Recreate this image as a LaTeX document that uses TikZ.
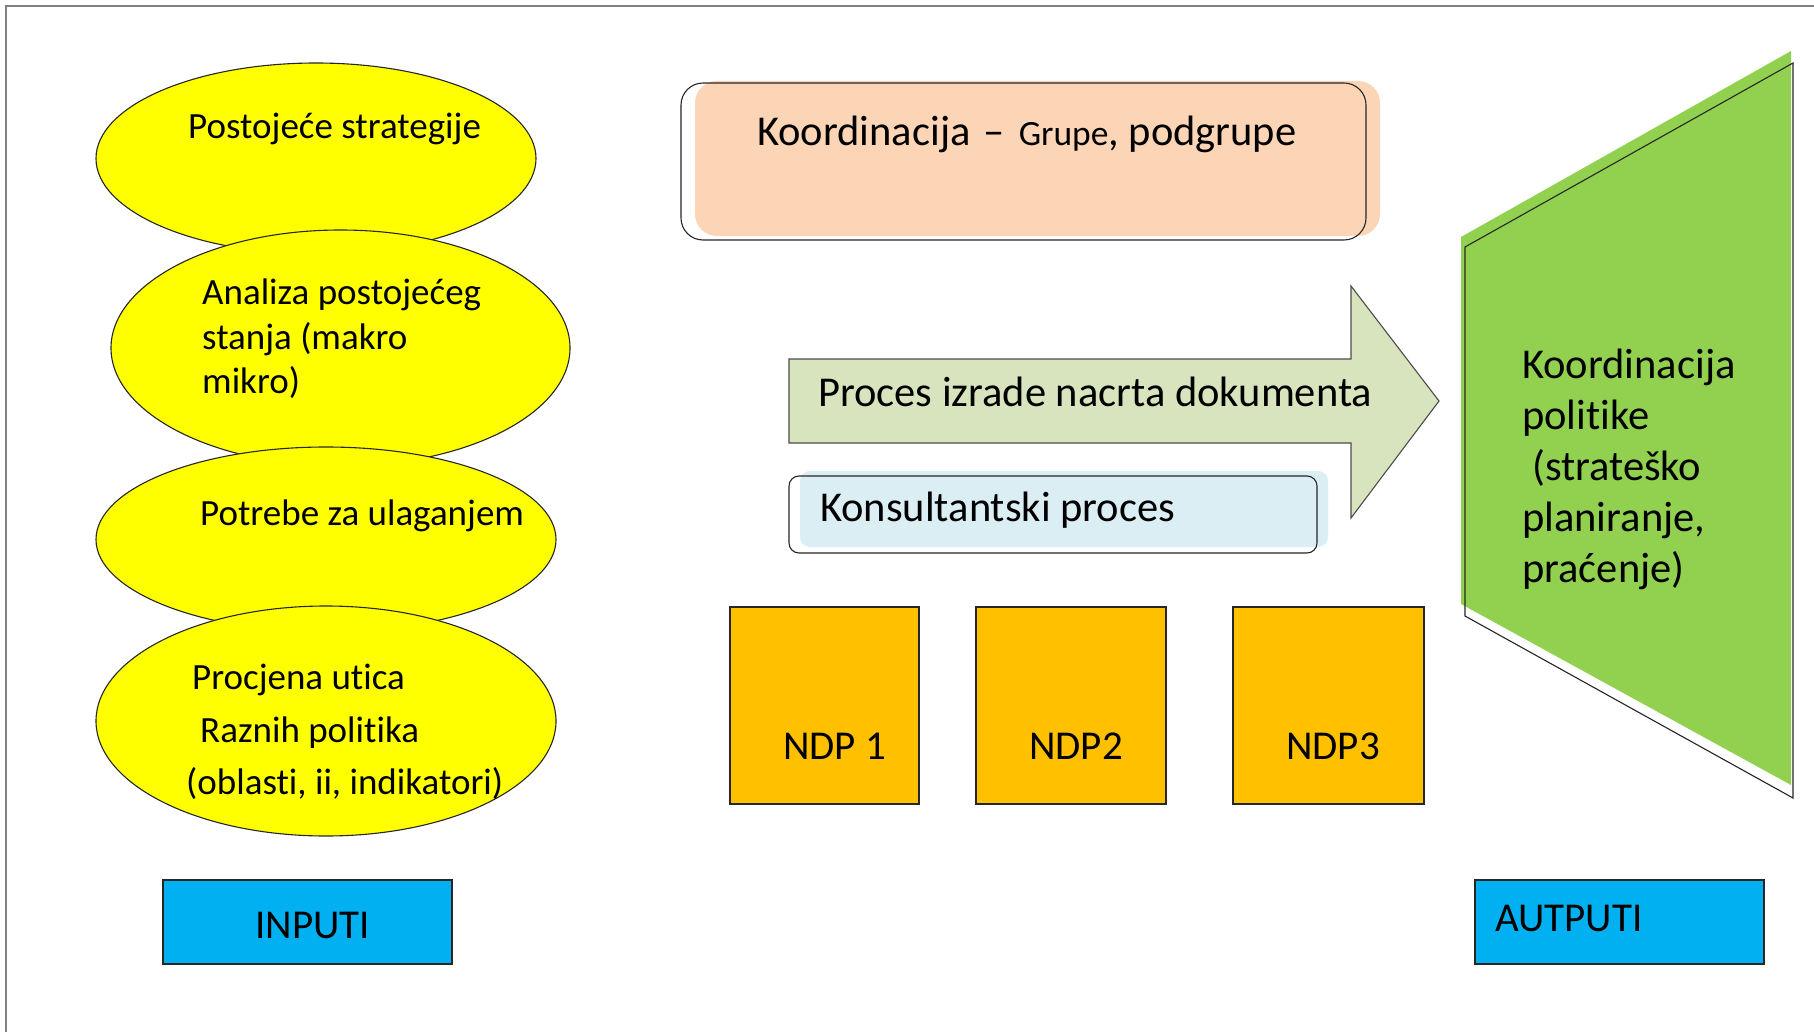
\documentclass[tikz,border=0pt]{standalone}
\usepackage{fontspec}
\setmainfont[Ligatures=NoCommon]{Carlito}
\usetikzlibrary{shapes.geometric}
\definecolor{ellyellow}{HTML}{FFFF00}
\definecolor{peach}{HTML}{FBD5B5}
\definecolor{arrowgreen}{HTML}{D7E4BD}
\definecolor{lightblue}{HTML}{DBEEF4}
\definecolor{ndporange}{HTML}{FFC000}
\definecolor{skyblue}{HTML}{00B0F0}
\definecolor{leafgreen}{HTML}{92D050}
\definecolor{framegray}{HTML}{808080}
\begin{document}
\begin{tikzpicture}[x=1pt,y=-1pt,
  outl/.style={draw=black!85, line width=1.1pt},
  ellbox/.style={ellipse, outl, fill=ellyellow, inner sep=0pt},
  etext/.style={anchor=base west, inner sep=0pt, font=\fontsize{37}{44}\selectfont},
  btext/.style={anchor=base west, inner sep=0pt, font=\fontsize{42.5}{50}\selectfont},
  ntext/.style={anchor=base west, inner sep=0pt, font=\fontsize{41}{49}\selectfont},
  rbox/.style={rectangle, outl, inner sep=0pt},
  ndpbox/.style={rbox, fill=ndporange, minimum height=197pt},
  iobox/.style={rbox, fill=skyblue, minimum width=289pt, minimum height=84pt}
]
\useasboundingbox (0,0) rectangle (1814,1032);
\fill[white] (0,0) rectangle (1814,1032);
% frame
\draw[framegray, line width=2pt] (1814,6) -- (6,6) -- (6,1032);

% ellipses (inputs)
\node[ellbox, minimum width=440pt, minimum height=191pt] (e1) at (316,158.5) {};
\node[etext] (t1) at (188,139) {Postojeće strategije};
\node[ellbox, minimum width=459pt, minimum height=236pt] (e2) at (340.5,348) {};
\node[etext] (t2a) at (202,305) {Analiza postojećeg};
\node[etext] (t2b) at (202,349) {stanja (makro};
\node[etext] (t2c) at (202,393) {mikro)};
\node[ellbox, minimum width=460pt, minimum height=185pt] (e3) at (326,539.5) {};
\node[etext] (t3) at (200,525) {Potrebe za ulaganjem};
\node[ellbox, minimum width=460pt, minimum height=230pt] (e4) at (326,721) {};
\node[etext] (t4a) at (192,689) {Procjena utica};
\node[etext] (t4b) at (200,742) {Raznih politika};
\node[etext] (t4c) at (186,794) {(oblasti, ii, indikatori)};

% Koordinacija box
\fill[peach, rounded corners=22pt] (695,81) rectangle (1380,236);
\node[rbox, rounded corners=22pt, minimum width=685pt, minimum height=157pt] (koord) at (1023.5,161.5) {};
\node[btext] (koordt) at (757,146) {Koordinacija\hspace{13pt}–\hspace{14pt}{\fontsize{35.5}{42}\selectfont Grupe}, podgrupe};

% process arrow
\path[fill=arrowgreen, draw=black!70, line width=1.1pt] (789,359) -- (1351,359) -- (1351,286) -- (1439,401) -- (1351,518) -- (1351,443) -- (789,443) -- cycle;
\node[btext] (proces) at (818,406) {Proces izrade nacrta dokumenta};

% Konsultantski
\fill[lightblue, rounded corners=10pt] (800,471) rectangle (1328,547);
\node[rbox, rounded corners=10pt, minimum width=528pt, minimum height=77pt] (kons) at (1053,514.5) {};
\node[btext] (konst) at (820,521) {Konsultantski proces};

% NDP boxes
\node[ndpbox, minimum width=189pt] (ndp1) at (824.5,705.5) {};
\node[ndpbox, minimum width=190pt] (ndp2) at (1071,705.5) {};
\node[ndpbox, minimum width=191pt] (ndp3) at (1328.5,705.5) {};
\node[ntext] (ndp1t) at (783,759) {NDP 1};
\node[ntext] (ndp2t) at (1029,759) {NDP2};
\node[ntext] (ndp3t) at (1286,759) {NDP3};

% green output shape
\fill[leafgreen] (1461,237) -- (1791,51) -- (1791,785) -- (1461,604) -- cycle;
\draw[outl] (1465,247) -- (1793,63) -- (1793,798) -- (1465,616) -- cycle;
\node[btext] (g1) at (1522,378) {Koordinacija};
\node[btext] (g2) at (1522,429) {politike};
\node[btext] (g3) at (1532,480) {(strateško};
\node[btext] (g4) at (1522,531) {planiranje,};
\node[btext] (g5) at (1522,582) {praćenje)};

% input / output labels
\node[iobox] (inputi) at (307.5,922) {};
\node[ntext] (inputit) at (255,938) {INPUTI};
\node[iobox] (autputi) at (1619.5,922) {};
\node[ntext] (autputit) at (1495,931) {AUTPUTI};
\end{tikzpicture}
\end{document}
